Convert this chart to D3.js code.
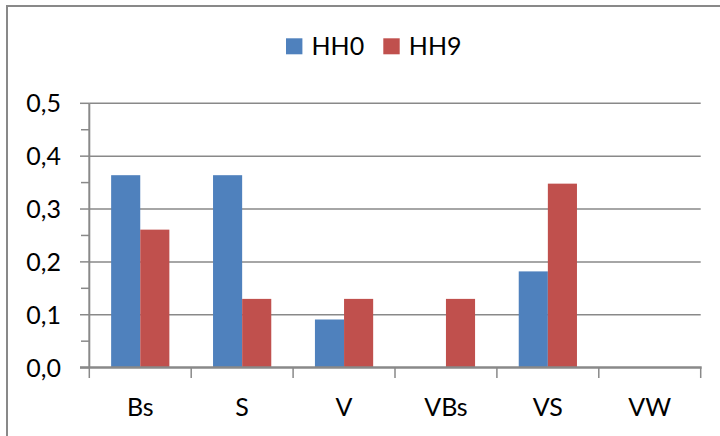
<!DOCTYPE html>
<html>
<head>
<meta charset="utf-8">
<script src="https://cdn.jsdelivr.net/npm/d3@7"></script>
<style>
  html, body { margin: 0; padding: 0; background: #fff; }
  svg { display: block; }
  text { font-family: Lato, "Open Sans", sans-serif; fill: #000; }
</style>
</head>
<body>
<svg id="chart" width="720" height="436"></svg>
<script>
const categories = ["Bs", "S", "V", "VBs", "VS", "VW"];
const seriesNames = ["HH0", "HH9"];
const hh0 = [0.364, 0.364, 0.091, 0, 0.182, 0];
const hh9 = [0.261, 0.130, 0.130, 0.130, 0.348, 0];
const yTicks = [0, 0.1, 0.2, 0.3, 0.4, 0.5];
const minorTicks = [0.05, 0.15, 0.25, 0.35, 0.45];
const colors = ["#4F81BD", "#C0504D"];

const svg = d3.select("#chart");
const L = 89.3, R = 700.7, T = 103.3, B = 367.6;
const gray = "#898989";
const fs = 25;

// outer frame
svg.append("rect").attr("x", 7).attr("y", 6).attr("width", 760).attr("height", 500)
  .attr("fill", "none").attr("stroke", gray).attr("stroke-width", 2);

const x = d3.scaleBand().domain(categories).range([L, R]).paddingInner(0).paddingOuter(0);
const y = d3.scaleLinear().domain([0, 0.5]).range([B, T]);
const bw = x.bandwidth() / 3.5;
const xs = d3.scaleBand().domain(seriesNames).range([0.75 * bw, 2.75 * bw]);

// gridlines
svg.append("g").selectAll("line").data(yTicks.slice(1)).join("line")
  .attr("x1", L).attr("x2", R).attr("y1", d => y(d)).attr("y2", d => y(d))
  .attr("stroke", gray).attr("stroke-width", 1.5);

// bars
const data = [hh0, hh9];
seriesNames.forEach((s, si) => {
  svg.append("g").selectAll("rect").data(categories).join("rect")
    .attr("x", c => x(c) + xs(s))
    .attr("width", xs.bandwidth())
    .attr("y", (c, i) => y(data[si][i]))
    .attr("height", (c, i) => B - y(data[si][i]))
    .attr("fill", colors[si]);
});

// y axis
svg.append("line").attr("x1", L).attr("x2", L).attr("y1", T).attr("y2", B)
  .attr("stroke", gray).attr("stroke-width", 2);
svg.append("g").selectAll("line").data(yTicks).join("line")
  .attr("x1", 80).attr("x2", L).attr("y1", d => y(d)).attr("y2", d => y(d))
  .attr("stroke", gray).attr("stroke-width", 1.5);
svg.append("g").selectAll("line").data(minorTicks).join("line")
  .attr("x1", 81).attr("x2", L).attr("y1", d => y(d)).attr("y2", d => y(d))
  .attr("stroke", gray).attr("stroke-width", 1.5);
const fmt = d3.format(".1f");
svg.append("g").selectAll("text").data(yTicks).join("text")
  .attr("x", 61).attr("y", d => y(d)).attr("dy", "0.36em")
  .attr("text-anchor", "end").attr("font-size", fs)
  .text(d => fmt(d).replace(".", ","));

// x axis
svg.append("line").attr("x1", 80).attr("x2", R + 1).attr("y1", B).attr("y2", B)
  .attr("stroke", gray).attr("stroke-width", 2.5);
const bounds = categories.map(c => x(c)).concat([R]);
svg.append("g").selectAll("line").data(bounds).join("line")
  .attr("x1", d => d).attr("x2", d => d).attr("y1", B).attr("y2", 378)
  .attr("stroke", gray).attr("stroke-width", 1.5);
svg.append("g").selectAll("text").data(categories).join("text")
  .attr("x", c => x(c) + x.bandwidth() / 2).attr("y", 416)
  .attr("text-anchor", "middle").attr("font-size", fs)
  .text(c => c);

// legend
const lg = svg.append("g");
const legX = [286, 383.3];
seriesNames.forEach((s, i) => {
  lg.append("rect").attr("x", legX[i]).attr("y", 38.3).attr("width", 16.4).attr("height", 16)
    .attr("fill", colors[i]);
  lg.append("text").attr("x", legX[i] + 25.5).attr("y", 54.5).attr("font-size", fs).text(s);
});
</script>
</body>
</html>
